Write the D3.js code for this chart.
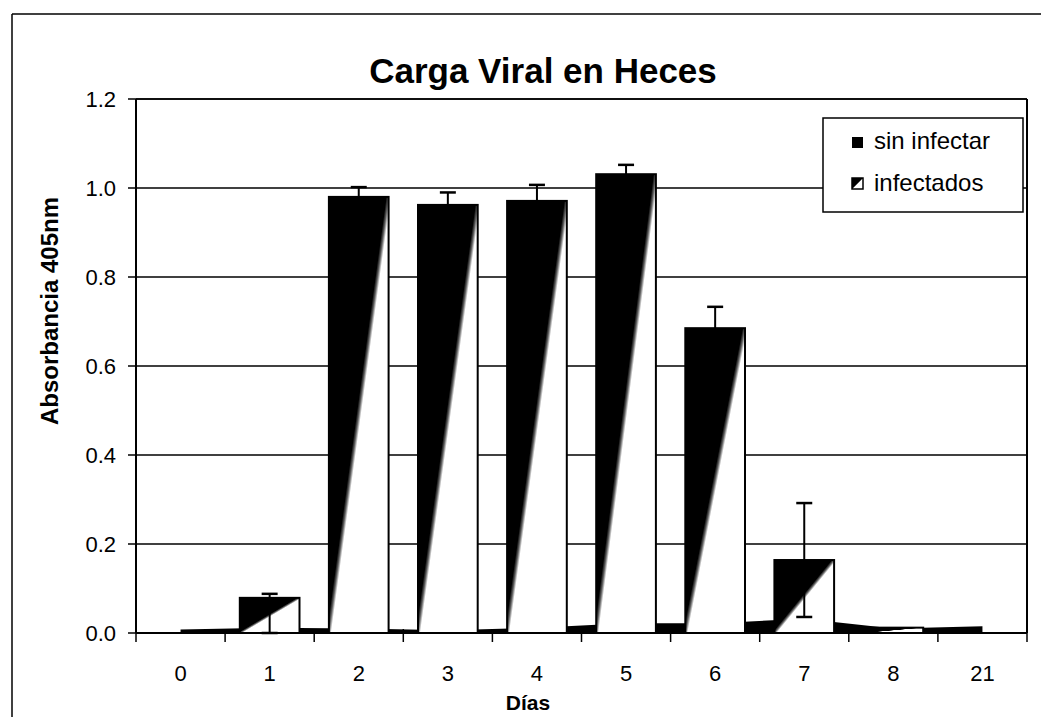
<!DOCTYPE html>
<html>
<head>
<meta charset="utf-8">
<script src="https://cdn.jsdelivr.net/npm/d3@7"></script>
<style>
  body { margin: 0; background: #fff; }
  text { font-family: "Liberation Sans", Arial, sans-serif; fill: #000; }
</style>
</head>
<body>
<script>
// chart values
const dias = ['0', '1', '2', '3', '4', '5', '6', '7', '8', '21'];
const infectados = [0, 0.079, 0.98, 0.962, 0.971, 1.031, 0.685, 0.164, 0.012, 0];
const errUp = [0, 0.009, 0.022, 0.028, 0.036, 0.021, 0.048, 0.128, 0, 0];
const errDown = [0, 0.079, 0.022, 0.028, 0.036, 0.021, 0.048, 0.128, 0, 0];
const sinInfectar = [0.008, 0.012, 0.01, 0.006, 0.012, 0.022, 0.022, 0.032, 0.01, 0.015];
const yTicks = [0, 0.2, 0.4, 0.6, 0.8, 1.0, 1.2];

const width = 1041;
const height = 717;
const margin = {left: 136, right: 14, top: 99, bottom: 84};

const svg = d3.select('body').append('svg')
  .attr('width', width)
  .attr('height', height);

const defs = svg.append('defs');
const grad = defs.append('linearGradient')
  .attr('id', 'diag')
  .attr('x1', 0).attr('y1', 0)
  .attr('x2', 1).attr('y2', 1);
grad.append('stop').attr('offset', '0%').attr('stop-color', '#000');
grad.append('stop').attr('offset', '48%').attr('stop-color', '#000');
grad.append('stop').attr('offset', '50%').attr('stop-color', '#666');
grad.append('stop').attr('offset', '52%').attr('stop-color', '#fff');
grad.append('stop').attr('offset', '100%').attr('stop-color', '#fff');

// outer frame of the scanned page (top and left only)
svg.append('line')
  .attr('x1', 12).attr('y1', 14).attr('x2', width).attr('y2', 14)
  .attr('stroke', '#000').attr('stroke-width', 1.5);
svg.append('line')
  .attr('x1', 12).attr('y1', 14).attr('x2', 12).attr('y2', height)
  .attr('stroke', '#000').attr('stroke-width', 1.5);

const x = d3.scaleBand()
  .domain(dias)
  .range([margin.left, width - margin.right])
  .padding(0);

const y = d3.scaleLinear()
  .domain([0, 1.2])
  .range([height - margin.bottom, margin.top]);

const x0 = margin.left;
const x1 = width - margin.right;

// gridlines
svg.append('g').selectAll('line')
  .data(yTicks.slice(1))
  .enter()
  .append('line')
  .attr('x1', x0).attr('x2', x1)
  .attr('y1', d => y(d)).attr('y2', d => y(d))
  .attr('stroke', '#000')
  .attr('stroke-width', 1.3);

// sin infectar drawn as an area behind the bars
const area = d3.area()
  .x((d, i) => x(dias[i]) + x.bandwidth() / 2)
  .y0(y(0))
  .y1(d => y(d));

svg.append('path')
  .datum(sinInfectar)
  .attr('d', area)
  .attr('fill', '#000');

const barW = x.bandwidth() * 0.67;

svg.append('g').selectAll('rect')
  .data(infectados.map((v, i) => ({dia: dias[i], v: v})).filter(d => d.v > 0))
  .enter()
  .append('rect')
  .attr('x', d => x(d.dia) + (x.bandwidth() - barW) / 2)
  .attr('y', d => y(d.v))
  .attr('width', barW)
  .attr('height', d => y(0) - y(d.v))
  .attr('fill', 'url(#diag)')
  .attr('stroke', '#000')
  .attr('stroke-width', 2);

// error bars
const errG = svg.append('g');
infectados.forEach((v, i) => {
  if (errUp[i] === 0 && errDown[i] === 0) return;
  const cx = x(dias[i]) + x.bandwidth() / 2;
  const top = y(v + errUp[i]);
  const bot = y(Math.max(0, v - errDown[i]));
  errG.append('line')
    .attr('x1', cx).attr('x2', cx).attr('y1', top).attr('y2', bot)
    .attr('stroke', '#000').attr('stroke-width', 2);
  [top, bot].forEach(yy => {
    errG.append('line')
      .attr('x1', cx - 8).attr('x2', cx + 8).attr('y1', yy).attr('y2', yy)
      .attr('stroke', '#000').attr('stroke-width', 2.5);
  });
});

// plot frame
svg.append('line')
  .attr('x1', x0).attr('x2', x1).attr('y1', y(1.2)).attr('y2', y(1.2))
  .attr('stroke', '#000').attr('stroke-width', 1.5);
svg.append('line')
  .attr('x1', x1).attr('x2', x1).attr('y1', y(1.2)).attr('y2', y(0))
  .attr('stroke', '#000').attr('stroke-width', 2);
svg.append('line')
  .attr('x1', x0).attr('x2', x0).attr('y1', y(1.2)).attr('y2', y(0))
  .attr('stroke', '#000').attr('stroke-width', 2);
svg.append('line')
  .attr('x1', x0).attr('x2', x1).attr('y1', y(0)).attr('y2', y(0))
  .attr('stroke', '#000').attr('stroke-width', 2);

// y ticks and labels
svg.append('g').selectAll('line')
  .data(yTicks)
  .enter()
  .append('line')
  .attr('x1', x0 - 8).attr('x2', x0)
  .attr('y1', d => y(d)).attr('y2', d => y(d))
  .attr('stroke', '#000').attr('stroke-width', 1.5);

svg.append('g').selectAll('text')
  .data(yTicks)
  .enter()
  .append('text')
  .text(d => d.toFixed(1))
  .attr('x', 116)
  .attr('y', d => y(d) + 8)
  .attr('text-anchor', 'end')
  .style('font-size', '22px');

// x ticks at band edges
const edges = dias.map(d => x(d)).concat([x1]);
svg.append('g').selectAll('line')
  .data(edges)
  .enter()
  .append('line')
  .attr('x1', d => d).attr('x2', d => d)
  .attr('y1', y(0) - 4).attr('y2', y(0) + 9)
  .attr('stroke', '#000').attr('stroke-width', 1.5);

svg.append('g').selectAll('text')
  .data(dias)
  .enter()
  .append('text')
  .text(d => d)
  .attr('x', d => x(d) + x.bandwidth() / 2)
  .attr('y', 681)
  .attr('text-anchor', 'middle')
  .style('font-size', '22px');

// titles
svg.append('text')
  .text('Carga Viral en Heces')
  .attr('x', 543)
  .attr('y', 83)
  .attr('text-anchor', 'middle')
  .style('font-size', '35px')
  .style('font-weight', 'bold');

svg.append('text')
  .text('Días')
  .attr('x', 528)
  .attr('y', 710)
  .attr('text-anchor', 'middle')
  .style('font-size', '21px')
  .style('font-weight', 'bold');

svg.append('text')
  .text('Absorbancia 405nm')
  .attr('transform', 'translate(58, 311) rotate(-90)')
  .attr('text-anchor', 'middle')
  .style('font-size', '24px')
  .style('font-weight', 'bold');

// legend
const legend = svg.append('g');
legend.append('rect')
  .attr('x', 823).attr('y', 118)
  .attr('width', 200).attr('height', 94)
  .attr('fill', '#fff')
  .attr('stroke', '#000').attr('stroke-width', 1.5);

legend.append('rect')
  .attr('x', 852).attr('y', 137)
  .attr('width', 11).attr('height', 11)
  .attr('fill', '#000');
legend.append('text')
  .text('sin infectar')
  .attr('x', 874).attr('y', 149)
  .style('font-size', '24px');

legend.append('rect')
  .attr('x', 852).attr('y', 178)
  .attr('width', 11).attr('height', 11)
  .attr('fill', 'url(#diag)')
  .attr('stroke', '#000').attr('stroke-width', 1.5);
legend.append('text')
  .text('infectados')
  .attr('x', 874).attr('y', 191)
  .style('font-size', '24px');
</script>
</body>
</html>
